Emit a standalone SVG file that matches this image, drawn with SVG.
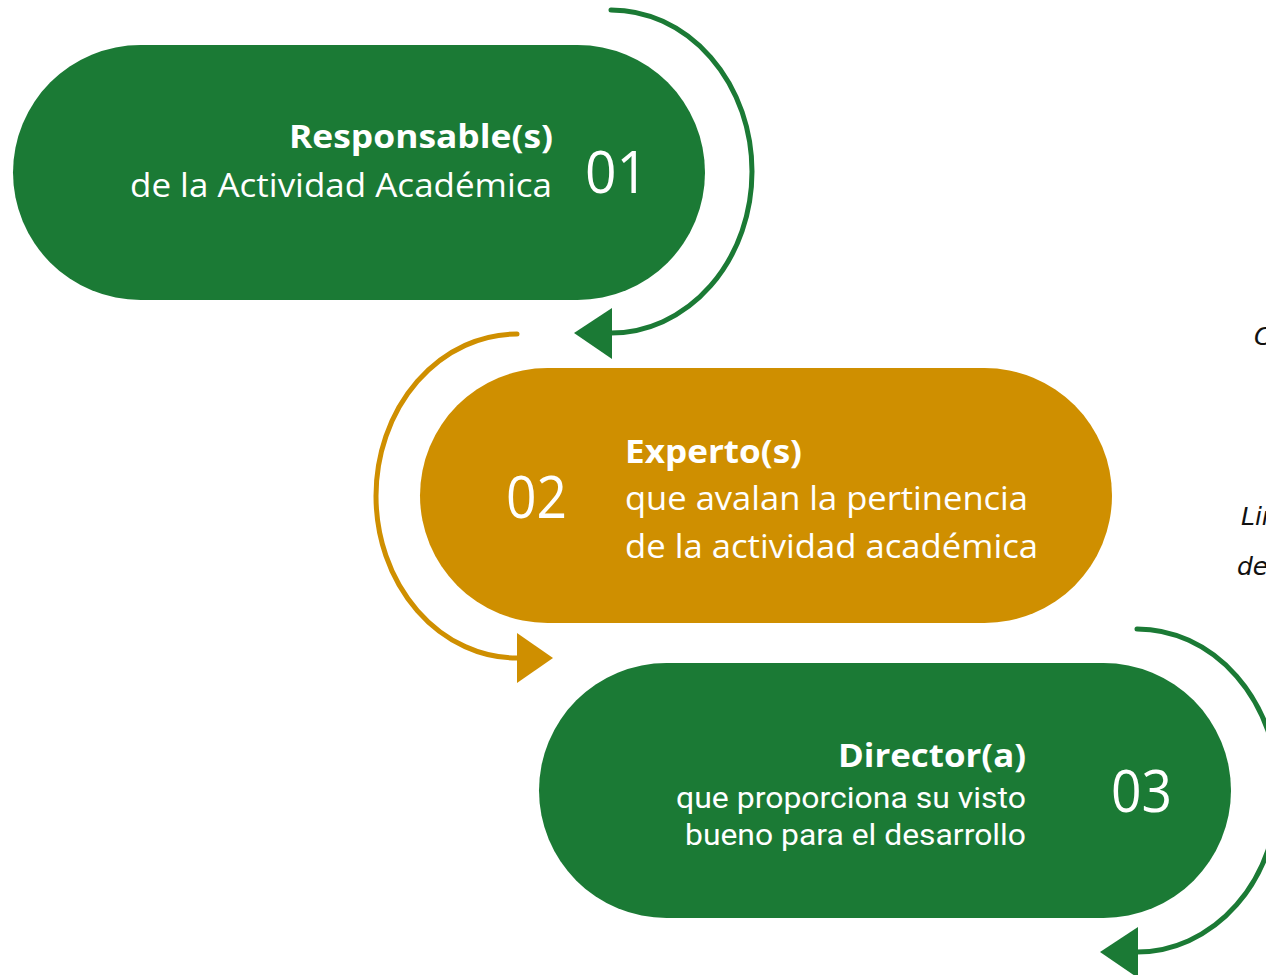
<svg xmlns="http://www.w3.org/2000/svg" width="1266" height="975" viewBox="0 0 1266 975">
<style>
.green{fill:#1b7a35}
.gold{fill:#cf8f00}
.t{fill:#ffffff;font-family:"Open Sans","Noto Sans",sans-serif}
.r{fill:#ffffff;font-family:Roboto,"Open Sans",sans-serif}
.b{font-weight:bold}
.num{font-size:58px}
.lbl{font-size:32px}
.side{fill:#111;font-family:"DejaVu Sans",Lato,sans-serif;font-style:italic;font-weight:300;font-size:25px}
.arc{fill:none;stroke-width:5;stroke-linecap:round}
</style>
<rect width="1266" height="975" fill="#ffffff"/>
<g id="connectors">
<path class="arc" stroke="#1b7a35" d="M611 10 A141 161.5 0 0 1 611 333"/>
<polygon class="green" points="574,333 612,308 612,359"/>
<path class="arc" stroke="#cf8f00" d="M517 334 A141 162 0 0 0 517 658"/>
<polygon class="gold" points="553,658 517,633 517,683"/>
<path class="arc" stroke="#1b7a35" d="M1137 629 A141 161.5 0 0 1 1137 952"/>
<polygon class="green" points="1100,952 1138,927 1138,978"/>
</g>
<g id="node1">
<rect class="green" x="13" y="45" width="692" height="255" rx="127.5"/>
<text class="t b lbl" x="553" y="148" text-anchor="end" textLength="264" lengthAdjust="spacingAndGlyphs">Responsable(s)</text>
<text class="t lbl" x="552" y="197" text-anchor="end" textLength="422" lengthAdjust="spacingAndGlyphs">de la Actividad Académica</text>
<text class="t num" x="585" y="193" textLength="63" lengthAdjust="spacingAndGlyphs">01</text>
</g>
<g id="node2">
<rect class="gold" x="420" y="368" width="692" height="255" rx="127.5"/>
<text class="t num" x="506" y="518" textLength="61" lengthAdjust="spacingAndGlyphs">02</text>
<text class="t b lbl" x="625" y="463" textLength="177" lengthAdjust="spacingAndGlyphs">Experto(s)</text>
<text class="t lbl" x="625" y="510" textLength="403" lengthAdjust="spacingAndGlyphs">que avalan la pertinencia</text>
<text class="t lbl" x="625" y="558" textLength="413" lengthAdjust="spacingAndGlyphs">de la actividad académica</text>
</g>
<g id="node3">
<rect class="green" x="539" y="663" width="692" height="255" rx="127.5"/>
<text class="t b lbl" x="1026" y="767" text-anchor="end" textLength="188" lengthAdjust="spacingAndGlyphs">Director(a)</text>
<text class="r" font-size="29" x="1026" y="808" text-anchor="end" textLength="350" lengthAdjust="spacingAndGlyphs">que proporciona su visto</text>
<text class="r" font-size="29" x="1026" y="845" text-anchor="end" textLength="341" lengthAdjust="spacingAndGlyphs">bueno para el desarrollo</text>
<text class="t num" x="1111" y="812" textLength="61" lengthAdjust="spacingAndGlyphs">03</text>
</g>
<g id="side-text">
<text class="side" x="1254" y="345">C</text>
<text class="side" x="1241" y="525">Lin</text>
<text class="side" x="1237" y="575">de</text>
</g>
</svg>
